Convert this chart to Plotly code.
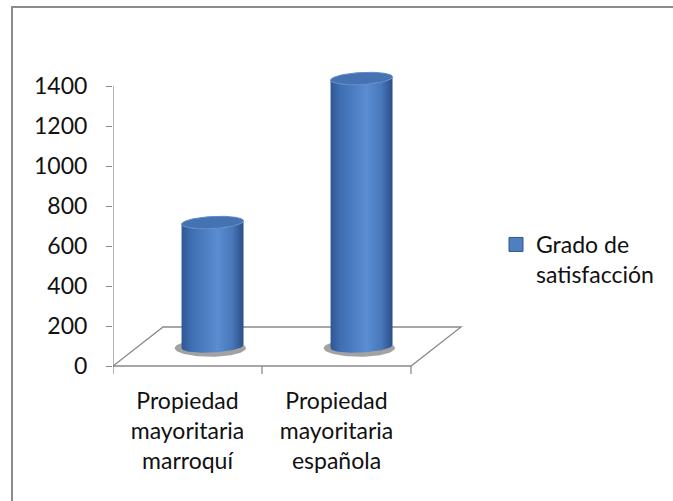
import numpy as np
import plotly.graph_objects as go

categories = ["Propiedad<br>mayoritaria<br>marroquí", "Propiedad<br>mayoritaria<br>española"]
values = [620, 1340]
series_name = "Grado de<br>satisfacción"
y_ticks = [0, 200, 400, 600, 800, 1000, 1200, 1400]

FONT = "Lato"
GRAY = "#8a8a8a"

# 3D-look geometry (in axis units)
DX = 0.336   # depth offset along x
DY = 195     # depth offset along y
R = 0.208    # cylinder x radius
B = 30       # ellipse y radius
TILT = 8

fig = go.Figure()

t_full = np.linspace(0, 2 * np.pi, 80)

for i, v in enumerate(values):
    cx = i + DX / 2
    base = DY / 2
    top = base + v
    # shadow
    fig.add_trace(go.Scatter(
        x=cx - 0.015 + R * 1.15 * np.cos(t_full),
        y=base - 8 + B * 1.45 * np.sin(t_full),
        fill="toself", mode="lines", line=dict(width=0),
        fillcolor="rgba(85,85,85,0.55)", showlegend=False, hoverinfo="skip"))
    # body
    t_bot = np.linspace(np.pi, 2 * np.pi, 40)
    t_top = np.linspace(2 * np.pi, np.pi, 40)
    bx = np.concatenate([cx + R * np.cos(t_bot), cx + R * np.cos(t_top)])
    by = np.concatenate([base + B * np.sin(t_bot) + TILT * np.cos(t_bot),
                         top + B * np.sin(t_top) + TILT * np.cos(t_top)])
    fig.add_trace(go.Scatter(
        x=bx, y=by, fill="toself", mode="lines", line=dict(width=0),
        fillgradient=dict(type="horizontal", colorscale=[
            [0, "#2f5894"], [0.15, "#3e6db1"], [0.58, "#5b8dd2"],
            [0.82, "#4877ba"], [1, "#2b4f86"]]),
        showlegend=False, hoverinfo="skip"))
    # top cap
    fig.add_trace(go.Scatter(
        x=cx + R * np.cos(t_full),
        y=top + B * np.sin(t_full) + TILT * np.cos(t_full),
        fill="toself", mode="lines", line=dict(width=1, color="#5f8bc9"),
        fillcolor="#4572b1", showlegend=False, hoverinfo="skip"))

# legend entry
fig.add_trace(go.Scatter(
    x=[None], y=[None], mode="markers", name=series_name,
    marker=dict(symbol="square", size=14, color="#4f7fc0",
                line=dict(width=1, color="#2e568f"))))

shapes = []
# floor
shapes.append(dict(type="path", xref="x", yref="y", layer="below",
                   path=f"M -0.5,0 L 1.5,0 L {1.5+DX},{DY} L {-0.5+DX},{DY} Z",
                   line=dict(color=GRAY, width=1.3)))
# value axis line
shapes.append(dict(type="line", xref="x", yref="y", x0=-0.5, x1=-0.5,
                   y0=-40, y1=y_ticks[-1], line=dict(color=GRAY, width=1.3)))
# category tick marks
for xv in [0.5, 1.5]:
    shapes.append(dict(type="line", xref="x", yref="y", x0=xv, x1=xv, y0=0, y1=-40,
                       line=dict(color=GRAY, width=1.3)))

# outer border
L, T, W, H = 113, 66, 350, 308
def px2paper_x(px):
    return (px - L) / W
def px2paper_y(py):
    return (T + H - py) / H
shapes.append(dict(type="rect", xref="paper", yref="paper",
                   x0=px2paper_x(12), x1=px2paper_x(700),
                   y0=px2paper_y(520), y1=px2paper_y(7),
                   line=dict(color="#8c8c8c", width=2)))

fig.update_layout(
    width=673, height=501,
    margin=dict(l=L, r=673 - L - W, t=T, b=501 - T - H),
    paper_bgcolor="white", plot_bgcolor="white",
    font=dict(family=FONT, size=23, color="#111111"),
    shapes=shapes,
    showlegend=True,
    legend=dict(x=px2paper_x(496), y=px2paper_y(223), xanchor="left", yanchor="top",
                valign="top", font=dict(family=FONT, size=23, color="#111111"),
                bgcolor="rgba(0,0,0,0)"),
    xaxis=dict(range=[-0.5, -0.5 + W / 149], tickvals=[0, 1], ticktext=categories,
               ticks="", showline=False, showgrid=False, zeroline=False,
               ticklabelstandoff=11, fixedrange=True),
    yaxis=dict(range=[-40, 1500], tickvals=y_ticks, ticktext=[str(v) for v in y_ticks],
               ticks="outside", ticklen=6, tickcolor=GRAY, tickwidth=1.3,
               showline=False, showgrid=False, zeroline=False,
               ticklabelstandoff=14, fixedrange=True),
)

fig.write_html("out.html")
